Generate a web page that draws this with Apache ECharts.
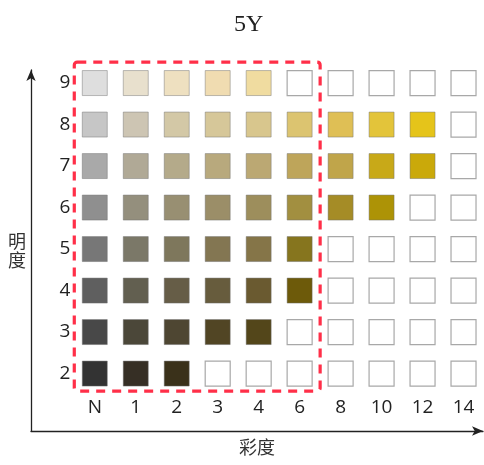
<!DOCTYPE html>
<html><head><meta charset="utf-8">
<script src="https://cdn.jsdelivr.net/npm/echarts@6/dist/echarts.min.js"></script>
<style>html,body{margin:0;padding:0;background:#fff}#c{width:484px;height:465px}</style>
</head><body><div id="c"></div>
<script>
var chromaLabels = ['N','1','2','3','4','6','8','10','12','14'];
var valueLabels = ['2','3','4','5','6','7','8','9'];
// colours per value row (index matches chromaLabels); null = empty cell
var row9 = ['#dedede','#e8e0cd','#eee0c0','#f0dcb1','#f0dca0',null,null,null,null,null];
var row8 = ['#c6c6c6','#cdc5b3','#d3c8a6','#d6c799','#d8c68d','#dcc470','#dfbf55','#e3c43a','#e5c41a',null];
var row7 = ['#a9a9a9','#b0a996','#b4aa8a','#b8a97d','#bba873','#bea55a','#c0a54a','#c8a918','#caa90a',null];
var row6 = ['#8f8f8f','#948f7d','#988f72','#9b8e68','#9d8e5c','#a28f40','#a58c26','#ad9306',null,null];
var row5 = ['#777777','#7b7868','#7e775c','#837652','#857548','#86751e',null,null,null,null];
var row4 = ['#5f5f5f','#625f50','#665d47','#675c3d','#6a5a30','#6d5a0a',null,null,null,null];
var row3 = ['#484848','#4b4739','#4e4632','#514524','#53461a',null,null,null,null,null];
var row2 = ['#333333','#362f25','#3a311a',null,null,null,null,null,null,null];
var rows = [row2,row3,row4,row5,row6,row7,row8,row9];
var titleText = '5Y';
var xName = '彩度';
var yName = '明度';

var data = [];
rows.forEach(function(r, yi){
  r.forEach(function(c, xi){
    data.push({
      value: [chromaLabels[xi], valueLabels[yi]],
      itemStyle: c ? {color: c, opacity:1, borderColor: 'rgba(110,110,110,0.45)', borderWidth: 1}
                   : {color: '#ffffff', opacity:1, borderColor: '#a8a8a8', borderWidth: 1.2}
    });
  });
});

var chart = echarts.init(document.getElementById('c'), null, {renderer:'canvas'});
var lblFont = {fontFamily:'Open Sans', fontSize:19, color:'#222'};
chart.setOption({
  animation:false,
  title:{text:titleText, left:229, top:8, textStyle:{fontFamily:'Liberation Serif', fontWeight:'normal', fontSize:24, color:'#222'}},
  grid:[
    {left:74.3, top:62.3, width:414, height:332},
    {left:31, right:1, top:70, bottom:34}
  ],
  xAxis:[
    {type:'category', gridIndex:0, data:chromaLabels, axisLine:{show:false}, axisTick:{show:false}, splitLine:{show:false},
     axisLabel:Object.assign({margin:4}, lblFont)},
    {type:'value', gridIndex:1, min:0, max:1, axisLabel:{show:false}, axisTick:{show:false}, splitLine:{show:false},
     axisLine:{show:true, symbol:['none','arrow'], symbolSize:[7,11], lineStyle:{color:'#222', width:1.3}},
     name:xName, nameLocation:'middle', nameGap:7, nameTextStyle:{fontFamily:'Noto Sans CJK SC', fontSize:18, color:'#333', verticalAlign:'top'}}
  ],
  yAxis:[
    {type:'category', gridIndex:0, data:valueLabels, axisLine:{show:false}, axisTick:{show:false}, splitLine:{show:false},
     axisLabel:Object.assign({margin:4}, lblFont)},
    {type:'value', gridIndex:1, min:0, max:1, axisLabel:{show:false}, axisTick:{show:false}, splitLine:{show:false},
     axisLine:{show:true, symbol:['none','arrow'], symbolSize:[7,11], lineStyle:{color:'#222', width:1.3}},
     name:yName.split('').join('\n'), nameLocation:'middle', nameRotate:0, nameGap:5,
     nameTextStyle:{fontFamily:'Noto Sans CJK SC', fontSize:18, lineHeight:19, color:'#333', align:'right', verticalAlign:'middle'}}
  ],
  series:[{
    type:'scatter', xAxisIndex:0, yAxisIndex:0, symbol:'rect', symbolSize:25, data:data, silent:true,
    itemStyle:{opacity:1}
  }]
});

var p1 = chart.convertToPixel({gridIndex:0}, [chromaLabels[0], valueLabels[valueLabels.length-1]]);
var p2 = chart.convertToPixel({gridIndex:0}, ['6', valueLabels[0]]);
chart.setOption({
  graphic:[{
    type:'rect', z:100,
    shape:{x:p1[0]-20.5, y:p1[1]-21, width:(p2[0]+20.5)-(p1[0]-20.5), height:(p2[1]+17.5)-(p1[1]-21), r:3},
    style:{fill:'none', stroke:'#ff2f48', lineWidth:3.2, lineDash:[9,7]}
  }]
});
</script></body></html>
